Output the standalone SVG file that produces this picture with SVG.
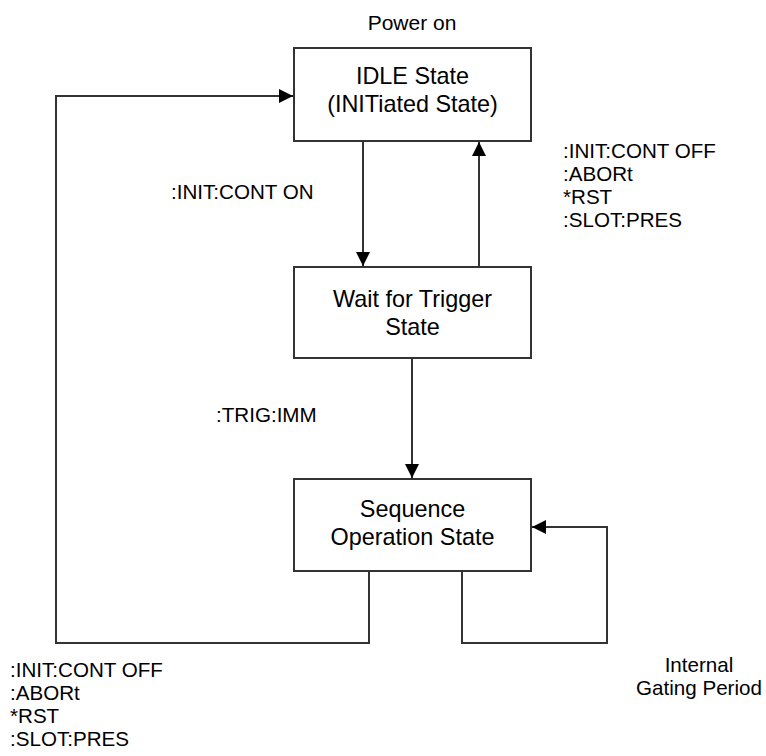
<svg xmlns="http://www.w3.org/2000/svg" width="766" height="756" viewBox="0 0 766 756">
  <style>
    .box { fill: #ffffff; stroke: #333333; stroke-width: 2; }
    .wire { fill: none; stroke: #333333; stroke-width: 2; }
    .state { font-family: "Liberation Sans", Arial, sans-serif; font-size: 23.4px; fill: #000000; text-anchor: middle; }
    .lbl { font-family: "Liberation Sans", Arial, sans-serif; font-size: 20.6px; fill: #000000; }
    .mid { text-anchor: middle; }
  </style>
  <defs>
    <marker id="arrow" markerUnits="userSpaceOnUse" markerWidth="14" markerHeight="14" viewBox="0 0 12 12" refX="12" refY="6" orient="auto">
      <path d="M0,0 L12,6 L0,12 Z" fill="#000000"/>
    </marker>
  </defs>

  <rect width="766" height="756" fill="#ffffff"/>

  <!-- transitions -->
  <g id="connectors">
    <line class="wire" x1="363" y1="141" x2="363" y2="266" marker-end="url(#arrow)"/>
    <line class="wire" x1="479" y1="267" x2="479" y2="142" marker-end="url(#arrow)"/>
    <line class="wire" x1="412" y1="358" x2="412" y2="478" marker-end="url(#arrow)"/>
    <polyline class="wire" points="462,571 462,643 607,643 607,527 532,527" marker-end="url(#arrow)"/>
    <polyline class="wire" points="369,571 369,643 56,643 56,96 293,96" marker-end="url(#arrow)"/>
  </g>

  <!-- states -->
  <g id="idle">
    <rect class="box" x="294" y="48" width="237" height="93"/>
    <text class="state" x="412.5" y="84">IDLE State</text>
    <text class="state" x="412.5" y="112">(INITiated State)</text>
  </g>
  <g id="wait">
    <rect class="box" x="294" y="267" width="237" height="91"/>
    <text class="state" x="412.5" y="307">Wait for Trigger</text>
    <text class="state" x="412.5" y="335">State</text>
  </g>
  <g id="sequence">
    <rect class="box" x="294" y="479" width="237" height="92"/>
    <text class="state" x="412.5" y="517">Sequence</text>
    <text class="state" x="412.5" y="545">Operation State</text>
  </g>

  <!-- labels -->
  <g id="labels">
    <text class="lbl mid" x="412" y="30" style="font-size:21px">Power on</text>
    <text class="lbl" x="171" y="199">:INIT:CONT ON</text>
    <text class="lbl" x="216" y="422">:TRIG:IMM</text>
    <text class="lbl" x="563" y="158">:INIT:CONT OFF</text>
    <text class="lbl" x="563" y="181">:ABORt</text>
    <text class="lbl" x="563" y="204">*RST</text>
    <text class="lbl" x="563" y="227">:SLOT:PRES</text>
    <text class="lbl" x="10" y="677">:INIT:CONT OFF</text>
    <text class="lbl" x="10" y="700">:ABORt</text>
    <text class="lbl" x="10" y="723">*RST</text>
    <text class="lbl" x="10" y="746">:SLOT:PRES</text>
    <text class="lbl mid" x="699" y="672">Internal</text>
    <text class="lbl mid" x="699" y="695">Gating Period</text>
  </g>
</svg>
